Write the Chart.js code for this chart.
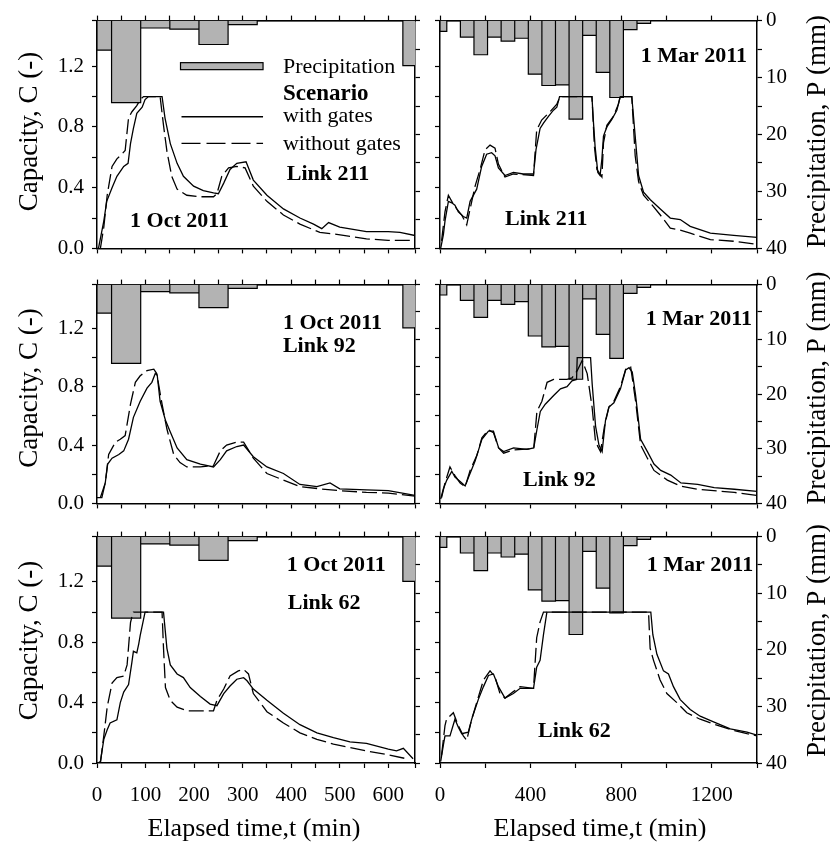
<!DOCTYPE html>
<html><head><meta charset="utf-8">
<script src="https://cdn.jsdelivr.net/npm/chart.js@4.4.0/dist/chart.umd.min.js"></script>
<style>
html,body{margin:0;padding:0;background:#fff;}
#wrap{position:relative;width:830px;height:842px;overflow:hidden;background:#fff;}
canvas{position:absolute;}
</style></head><body><div id="wrap"></div>
<script>
// ---------- DATA ----------
// Precipitation bins (min) and depth (mm)
const octBinStart=[0,30,90,150,210,270,630];
const octBinEnd  =[30,90,150,210,270,330,660];
const octRain    =[5.2,14.4,1.3,1.5,4.2,0.7,7.9];
const marBinStart=[0,90,150,210,270,330,390,450,510,570,630,690,750,810,870];
const marBinEnd  =[30,150,210,270,330,390,450,510,570,630,690,750,810,870,930];
const marRain    =[1.9,2.9,6.0,2.9,3.6,3.1,9.4,11.4,11.3,17.3,2.6,9.1,13.5,1.6,0.5];

// Tick labels
const octTimeLabels=[0,100,200,300,400,500,600];
const marTimeLabels=[0,400,800,1200];
const capLabels=[0.0,0.4,0.8,1.2];
const rainLabels=[0,10,20,30,40];

// Capacity series [time (min), C (-)]
const oct211Gates=[[0,0],[3,0],[14,0.18],[20,0.31],[31,0.40],[41,0.475],[55,0.54],[64,0.56],[69,0.69],[75,0.79],[82,0.89],[93,0.93],[99,0.98],[106,1.0],[134,1.0],[140,0.86],[151,0.69],[165,0.56],[178,0.475],[199,0.41],[219,0.38],[240,0.365],[250,0.36],[261,0.43],[274,0.52],[288,0.56],[307,0.57],[322,0.45],[350,0.35],[384,0.26],[418,0.20],[446,0.16],[463,0.13],[477,0.17],[500,0.14],[555,0.11],[600,0.11],[624,0.105],[655,0.085]];
const oct211NoGates=[[7,0],[14,0.14],[21,0.35],[31,0.54],[41,0.59],[51,0.62],[58,0.645],[65,0.86],[72,0.90],[82,0.94],[89,0.98],[96,1.0],[130,1.0],[137,0.81],[144,0.64],[154,0.475],[165,0.39],[185,0.35],[213,0.34],[240,0.34],[247,0.36],[257,0.475],[271,0.53],[288,0.54],[305,0.53],[322,0.41],[350,0.31],[384,0.22],[418,0.16],[459,0.105],[487,0.095],[555,0.063],[600,0.053],[655,0.053]];
const oct92Gates=[[0,0.04],[10,0.04],[17,0.14],[22,0.27],[31,0.31],[45,0.335],[55,0.36],[65,0.44],[75,0.59],[89,0.70],[103,0.79],[113,0.83],[120,0.89],[124,0.88],[130,0.70],[141,0.57],[151,0.49],[165,0.38],[185,0.30],[213,0.27],[240,0.25],[254,0.30],[267,0.36],[288,0.39],[302,0.40],[322,0.32],[350,0.25],[384,0.205],[418,0.13],[453,0.115],[480,0.14],[500,0.10],[555,0.093],[600,0.087],[655,0.055]];
const oct92NoGates=[[7,0.04],[17,0.14],[24,0.335],[38,0.42],[48,0.44],[58,0.465],[69,0.68],[79,0.83],[89,0.875],[103,0.91],[117,0.92],[123,0.89],[134,0.68],[144,0.51],[158,0.335],[171,0.28],[185,0.25],[213,0.25],[240,0.26],[254,0.36],[267,0.40],[288,0.42],[302,0.42],[322,0.31],[350,0.205],[384,0.16],[418,0.115],[459,0.10],[500,0.087],[555,0.076],[600,0.071],[655,0.05]];
const oct62Gates=[[2,0],[7,0.01],[14,0.157],[21,0.22],[27,0.265],[41,0.286],[48,0.40],[55,0.47],[65,0.52],[72,0.67],[75,0.74],[82,0.73],[86,0.79],[89,0.845],[99,1.0],[137,1.0],[144,0.76],[151,0.65],[165,0.59],[178,0.566],[192,0.50],[213,0.44],[233,0.39],[247,0.38],[261,0.46],[274,0.51],[288,0.555],[302,0.565],[309,0.545],[322,0.49],[350,0.415],[384,0.33],[418,0.254],[453,0.20],[487,0.168],[521,0.14],[555,0.13],[600,0.092],[617,0.08],[631,0.097],[651,0.028]];
const oct62NoGates=[[7,0],[14,0.18],[21,0.37],[31,0.53],[41,0.566],[55,0.576],[62,0.65],[69,0.93],[72,0.97],[75,1.0],[134,1.0],[137,0.76],[141,0.50],[151,0.415],[165,0.37],[185,0.346],[213,0.346],[240,0.346],[247,0.415],[261,0.49],[274,0.576],[291,0.61],[302,0.62],[312,0.59],[322,0.46],[350,0.34],[384,0.265],[418,0.20],[453,0.157],[487,0.125],[521,0.103],[555,0.08],[600,0.054],[638,0.028]];
const mar211Gates=[[3,0],[15,0.09],[22,0.18],[37,0.31],[52,0.30],[66,0.285],[81,0.24],[103,0.21],[118,0.20],[133,0.31],[162,0.39],[184,0.54],[206,0.62],[228,0.63],[243,0.61],[258,0.53],[287,0.48],[324,0.50],[368,0.49],[413,0.49],[424,0.65],[442,0.79],[457,0.825],[479,0.87],[501,0.91],[516,0.93],[528,1.0],[671,1.0],[678,0.825],[685,0.67],[697,0.50],[707,0.48],[715,0.59],[722,0.74],[737,0.80],[759,0.85],[781,0.91],[796,1.0],[847,1.0],[862,0.74],[877,0.48],[899,0.37],[929,0.32],[973,0.26],[1017,0.20],[1061,0.19],[1105,0.145],[1194,0.10],[1297,0.086],[1400,0.073]];
const mar211NoGates=[[7,0.05],[22,0.24],[37,0.35],[52,0.31],[74,0.26],[96,0.22],[118,0.155],[133,0.26],[155,0.41],[177,0.52],[199,0.65],[221,0.68],[243,0.66],[258,0.555],[287,0.47],[324,0.49],[413,0.48],[427,0.78],[449,0.845],[486,0.90],[516,0.95],[531,1.0],[671,1.0],[682,0.67],[693,0.52],[715,0.47],[722,0.695],[737,0.81],[766,0.87],[788,0.95],[796,1.0],[847,1.0],[862,0.61],[877,0.44],[899,0.35],[929,0.30],[973,0.22],[1017,0.134],[1061,0.12],[1105,0.10],[1194,0.058],[1297,0.047],[1400,0.026]];
const mar92Gates=[[3,0.03],[15,0.10],[30,0.16],[52,0.22],[66,0.18],[89,0.15],[111,0.12],[126,0.18],[155,0.29],[185,0.44],[214,0.495],[236,0.495],[259,0.38],[281,0.355],[325,0.38],[384,0.37],[414,0.38],[428,0.505],[443,0.63],[465,0.68],[502,0.74],[532,0.785],[561,0.80],[583,0.84],[603,0.85],[606,1.0],[665,1.0],[672,0.82],[687,0.53],[702,0.40],[716,0.355],[731,0.57],[746,0.66],[768,0.69],[797,0.785],[820,0.915],[835,0.93],[849,0.90],[864,0.74],[886,0.44],[916,0.355],[945,0.27],[975,0.226],[1019,0.194],[1064,0.14],[1138,0.13],[1211,0.108],[1300,0.097],[1400,0.082]];
const mar92NoGates=[[7,0.04],[22,0.14],[44,0.25],[66,0.19],[89,0.14],[111,0.114],[133,0.226],[163,0.33],[185,0.45],[214,0.505],[236,0.485],[259,0.38],[281,0.344],[325,0.366],[414,0.376],[428,0.63],[450,0.70],[473,0.83],[502,0.85],[561,0.85],[583,0.86],[606,0.91],[628,0.98],[650,0.89],[672,0.656],[687,0.42],[709,0.355],[726,0.527],[746,0.66],[768,0.70],[797,0.80],[820,0.92],[842,0.936],[864,0.70],[886,0.40],[916,0.31],[945,0.226],[1004,0.16],[1064,0.118],[1138,0.097],[1300,0.075],[1400,0.054]];
const mar62Gates=[[3,0.01],[15,0.12],[22,0.18],[29,0.18],[44,0.18],[66,0.29],[81,0.237],[96,0.194],[125,0.204],[140,0.29],[169,0.42],[192,0.506],[214,0.58],[236,0.59],[258,0.506],[287,0.43],[324,0.46],[354,0.495],[413,0.495],[427,0.635],[442,0.68],[457,0.85],[472,1.0],[931,1.0],[940,0.85],[958,0.72],[987,0.61],[1009,0.59],[1031,0.506],[1061,0.42],[1105,0.355],[1149,0.31],[1208,0.273],[1282,0.226],[1356,0.204],[1400,0.185]];
const mar62NoGates=[[7,0.054],[22,0.247],[29,0.29],[59,0.333],[81,0.247],[103,0.18],[118,0.15],[140,0.29],[162,0.40],[192,0.55],[221,0.61],[243,0.57],[265,0.46],[287,0.43],[324,0.473],[354,0.506],[413,0.495],[427,0.83],[442,0.935],[457,1.0],[921,1.0],[928,0.76],[943,0.68],[972,0.55],[1002,0.46],[1046,0.40],[1090,0.333],[1149,0.29],[1208,0.258],[1282,0.222],[1356,0.194],[1400,0.18]];

// ---------- LAYOUT ----------
const SERIF="'Liberation Serif','Times New Roman',serif";
const cols=[{cx:0,cw:432,aL:97,aR:415,xMax:655,step:50,labels:octTimeLabels,titleX:254},
            {cx:415,cw:415,aL:440,aR:757,xMax:1400,step:200,labels:marTimeLabels,titleX:600}];
const rows=[{cy:0,ch:269,aT:20,aB:255},{cy:264,ch:260,aT:278,aB:510},{cy:516,ch:326,aT:530,aB:763}];

const rainSets={oct:[octBinStart,octBinEnd,octRain],mar:[marBinStart,marBinEnd,marRain]};
function rainOutline(s,e,v){const p=[];for(let i=0;i<v.length;i++){p.push({x:s[i],y:0},{x:s[i],y:v[i]},{x:e[i],y:v[i]},{x:e[i],y:0});}return p;}
const toXY=a=>a.map(d=>({x:d[0],y:d[1]}));

const B='bold 22px '+SERIF;
const LEG='22px '+SERIF;
const panels=[
 {c:0,r:0,rain:'oct',g:oct211Gates,n:oct211NoGates,notes:[
   {t:'1 Oct 2011',x:68,y:0.18,f:B},{t:'Link 211',x:391,y:0.489,f:B},
   {t:'Precipitation',x:383,y:1.196,f:LEG},{t:'Scenario',x:383,y:1.016,f:'bold 23px '+SERIF},
   {t:'with gates',x:383,y:0.868,f:LEG},{t:'without gates',x:383,y:0.688,f:LEG}],legend:true},
 {c:1,r:0,rain:'mar',g:mar211Gates,n:mar211NoGates,notes:[
   {t:'1 Mar 2011',x:1356,y:1.265,f:B,a:'right'},{t:'Link 211',x:287,y:0.19,f:B}]},
 {c:0,r:1,rain:'oct',g:oct92Gates,n:oct92NoGates,notes:[
   {t:'1 Oct 2011',x:383,y:1.233,f:B},{t:'Link 92',x:383,y:1.078,f:B}]},
 {c:1,r:1,rain:'mar',g:mar92Gates,n:mar92NoGates,notes:[
   {t:'1 Mar 2011',x:1378,y:1.26,f:B,a:'right'},{t:'Link 92',x:367,y:0.16,f:B}]},
 {c:0,r:2,rain:'oct',g:oct62Gates,n:oct62NoGates,notes:[
   {t:'1 Oct 2011',x:391,y:1.307,f:B},{t:'Link 62',x:393,y:1.06,f:B}]},
 {c:1,r:2,rain:'mar',g:mar62Gates,n:mar62NoGates,notes:[
   {t:'1 Mar 2011',x:1383,y:1.31,f:B,a:'right'},{t:'Link 62',x:433,y:0.21,f:B}]}
];

const wrap=document.getElementById('wrap');
const TICK_FONT={family:SERIF,size:21};
const grid={drawOnChartArea:false,color:'#000',tickLength:5,tickWidth:1.2,drawTicks:true};
const border={display:true,color:'#000',width:1.5};

panels.forEach(p=>{
  const col=cols[p.c], row=rows[p.r];
  const L=col.aL-col.cx, R=col.cx+col.cw-col.aR, T=row.aT-row.cy, Bt=row.cy+row.ch-row.aB;
  const cv=document.createElement('canvas');
  cv.width=col.cw; cv.height=row.ch;
  cv.style.left=col.cx+'px'; cv.style.top=row.cy+'px';
  cv.style.width=col.cw+'px'; cv.style.height=row.ch+'px';
  wrap.appendChild(cv);
  const rs=rainSets[p.rain];
  const showX=p.r===2, showY=p.c===0, showP=p.c===1;

  const textPlugin={id:'txt',afterDraw(chart){
    const ctx=chart.ctx, xs=chart.scales.x, ys=chart.scales.y;
    ctx.save(); ctx.fillStyle='#000'; ctx.textBaseline='middle';
    p.notes.forEach(n=>{ctx.font=n.f; ctx.textAlign=n.a||'left'; ctx.fillText(n.t,xs.getPixelForValue(n.x),ys.getPixelForValue(n.y));});
    if(p.legend){
      const x1=xs.getPixelForValue(172), x2=xs.getPixelForValue(342);
      const yR=ys.getPixelForValue(1.2);
      ctx.fillStyle='#b3b3b3'; ctx.fillRect(x1,yR-3.5,x2-x1,7);
      ctx.strokeStyle='#000'; ctx.lineWidth=1.2; ctx.strokeRect(x1,yR-3.5,x2-x1,7);
      ctx.beginPath(); ctx.lineWidth=1.3; const y1=ys.getPixelForValue(0.867);
      ctx.moveTo(x1+1,y1); ctx.lineTo(x2,y1); ctx.stroke();
      ctx.beginPath(); ctx.setLineDash([19,6]); const y2=ys.getPixelForValue(0.692);
      ctx.moveTo(x1+1,y2); ctx.lineTo(x2,y2); ctx.stroke(); ctx.setLineDash([]);
    }
    // axis titles
    ctx.fillStyle='#000'; ctx.font='27px '+SERIF; ctx.textAlign='center';
    const midY=(row.aT+row.aB)/2-row.cy-6;
    if(p.c===0){ctx.save(); ctx.translate(30-col.cx,midY); ctx.rotate(-Math.PI/2); ctx.fillText('Capacity, C (-)',0,0); ctx.restore();}
    else {ctx.save(); ctx.translate(818-col.cx,midY); ctx.rotate(-Math.PI/2); ctx.fillText('Precipitation, P (mm)',0,0); ctx.restore();}
    if(p.r===2){ctx.font='26px '+SERIF; ctx.fillText('Elapsed time,t (min)',col.titleX-col.cx,829-row.cy);}
    ctx.restore();
  }};

  new Chart(cv,{
    type:'line',
    data:{datasets:[
      {label:'with gates',data:toXY(p.g),xAxisID:'x',yAxisID:'y',borderColor:'#000',borderWidth:1.3,pointRadius:0,fill:false,tension:0,order:0},
      {label:'without gates',data:toXY(p.n),xAxisID:'x',yAxisID:'y',borderColor:'#000',borderWidth:1.3,borderDash:[15,5],pointRadius:0,fill:false,tension:0,order:1},
      {label:'Precipitation',data:rainOutline(rs[0],rs[1],rs[2]),xAxisID:'x',yAxisID:'yP',borderColor:'#000',borderWidth:1.2,backgroundColor:'#b3b3b3',fill:'origin',pointRadius:0,tension:0,order:2}
    ]},
    options:{
      responsive:false,animation:false,devicePixelRatio:1,
      layout:{padding:0},
      plugins:{legend:{display:false},tooltip:{enabled:false}},
      scales:{
        x:{type:'linear',position:'bottom',min:0,max:col.xMax,
           ticks:{stepSize:col.step,autoSkip:false,maxRotation:0,font:TICK_FONT,color:'#000',padding:15,
             callback:v=>(showX&&col.labels.includes(v))?String(v):''},
           grid,border,afterFit:s=>{s.height=Bt;}},
        xTop:{type:'linear',position:'top',min:0,max:col.xMax,
           ticks:{stepSize:col.step,autoSkip:false,display:false},
           grid,border,afterFit:s=>{s.height=T;}},
        y:{type:'linear',position:'left',min:0,max:1.5,
           ticks:{stepSize:0.2,autoSkip:false,font:TICK_FONT,color:'#000',padding:8,
             callback:v=>(showY&&capLabels.some(c=>Math.abs(c-v)<1e-6))?v.toFixed(1):''},
           grid,border,afterFit:s=>{s.width=L;}},
        yP:{type:'linear',position:'right',reverse:true,min:0,max:40,
           ticks:{stepSize:5,autoSkip:false,font:TICK_FONT,color:'#000',padding:4,
             callback:v=>(showP&&rainLabels.includes(v))?String(v):''},
           grid,border,afterFit:s=>{s.width=R;}}
      }
    },
    plugins:[textPlugin]
  });
});
</script></body></html>
